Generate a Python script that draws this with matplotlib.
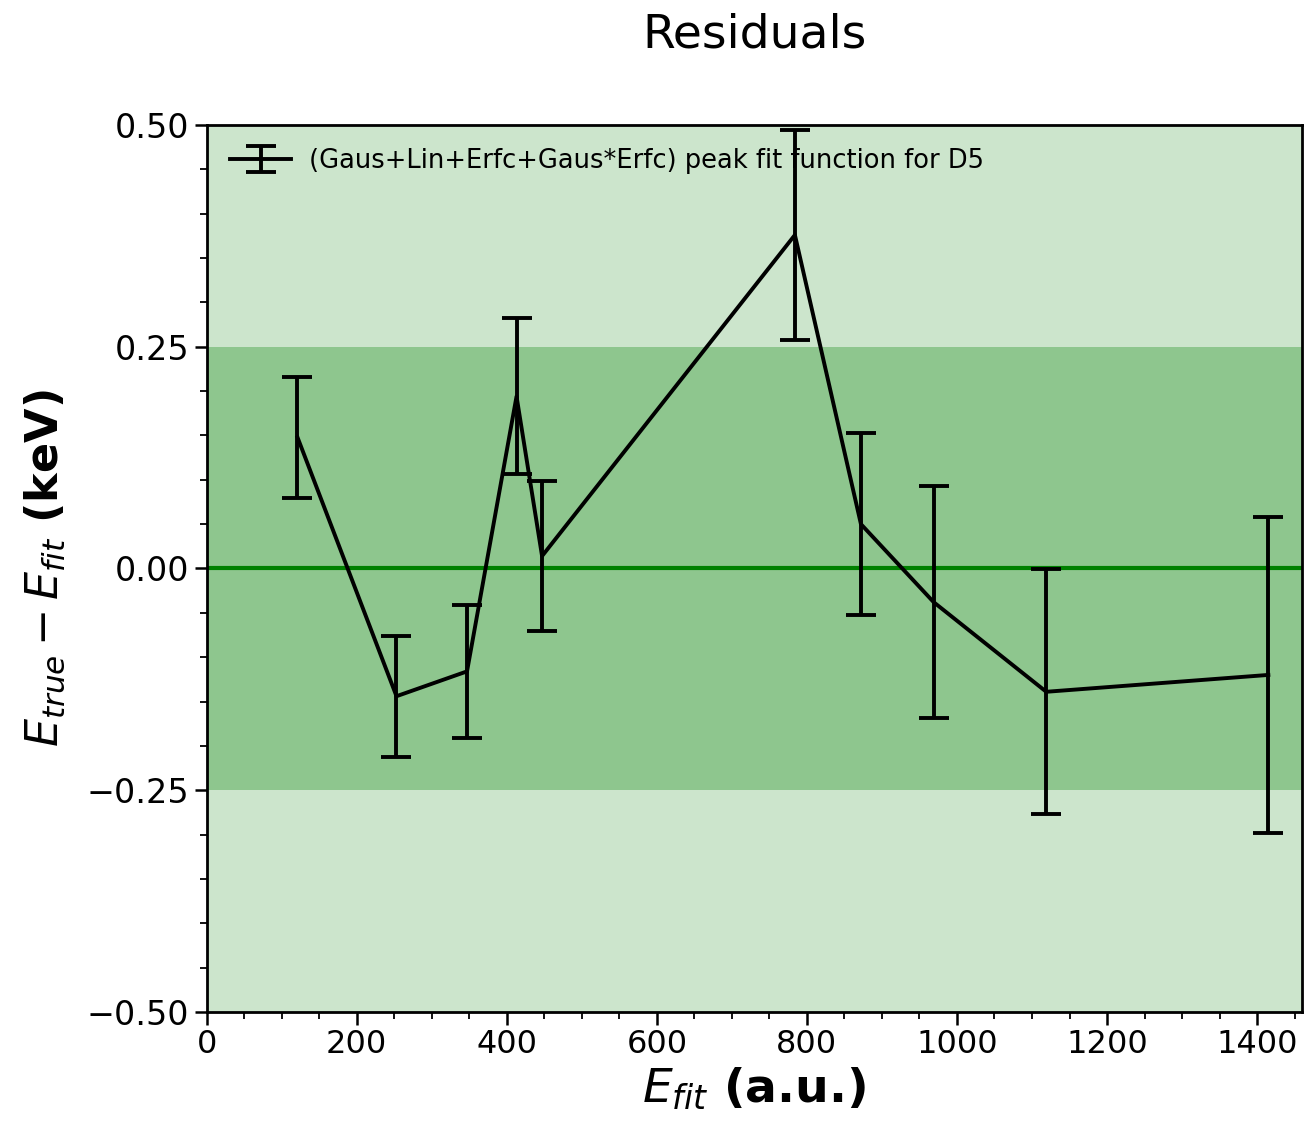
import matplotlib
matplotlib.use("Agg")
import matplotlib.pyplot as plt
from matplotlib.ticker import MultipleLocator

# Data
e_fit = [121, 253, 347, 413, 447, 784, 872, 969, 1119, 1415]
residuals = [0.148, -0.144, -0.116, 0.194, 0.014, 0.376, 0.050, -0.038, -0.139, -0.120]
errors = [0.068, 0.068, 0.075, 0.088, 0.085, 0.118, 0.103, 0.131, 0.138, 0.178]
label = "(Gaus+Lin+Erfc+Gaus*Erfc) peak fit function for D5"

fig = plt.figure(figsize=(13.08, 11.33), dpi=100)
ax = fig.add_axes([0.158, 0.1068, 0.8375, 0.7829])

ax.axhspan(-0.5, 0.5, color="green", alpha=0.2, lw=0)
ax.axhspan(-0.25, 0.25, color="green", alpha=0.3, lw=0)
ax.axhline(0, color="green", lw=3)

ax.errorbar(e_fit, residuals, yerr=errors, color="black", lw=2.8,
            elinewidth=2.8, capsize=11, capthick=2.8, label=label)

ax.set_xlim(0, 1460)
ax.set_ylim(-0.5, 0.5)
ax.set_yticks([-0.5, -0.25, 0, 0.25, 0.5])
ax.xaxis.set_major_locator(MultipleLocator(200))
ax.xaxis.set_minor_locator(MultipleLocator(50))
ax.yaxis.set_minor_locator(MultipleLocator(0.05))
ax.tick_params(axis="y", which="major", labelsize=24, length=9, width=1.8)
ax.tick_params(axis="x", which="major", labelsize=23, length=9, width=1.8)
ax.tick_params(axis="both", which="minor", length=5, width=1.3)
for s in ax.spines.values():
    s.set_linewidth(2)

ax.set_xlabel(r"$E_{fit}$ (a.u.)", fontsize=34, fontweight="bold", labelpad=4)
ax.set_ylabel(r"$E_{true} - E_{fit}$ (keV)", fontsize=32, fontweight="bold", labelpad=14)
ax.set_title("Residuals", fontsize=34, pad=56)

ax.legend(loc="upper left", frameon=False, fontsize=18.5,
          borderaxespad=0.5, handlelength=2.4, handletextpad=0.7)

fig.savefig("out.png", dpi=100)
